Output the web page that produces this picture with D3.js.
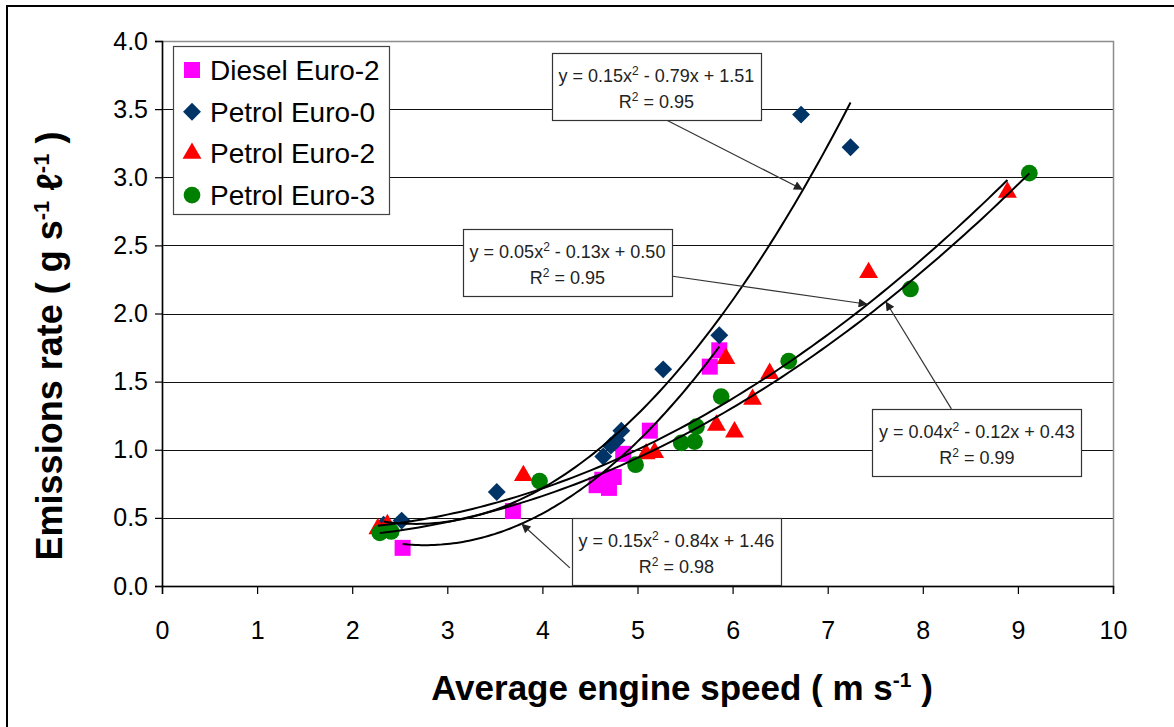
<!DOCTYPE html>
<html>
<head>
<meta charset="utf-8">
<script src="https://cdn.jsdelivr.net/npm/d3@7"></script>
<style>
  html, body { margin: 0; padding: 0; background: #fff; }
  svg { display: block; font-family: Arial, "Liberation Sans", sans-serif; }
</style>
</head>
<body>
<svg id="chart" width="1174" height="727"></svg>
<script>
// ---- data -------------------------------------------------------------
const seriesNames = ["Diesel Euro-2", "Petrol Euro-0", "Petrol Euro-2", "Petrol Euro-3"];

// [average engine speed (m/s), emissions rate (g/s/l)]
const dieselEuro2 = [[2.53,0.28],[3.69,0.55],[4.57,0.74],[4.63,0.78],[4.70,0.72],[4.75,0.80],
                     [4.85,0.97],[5.13,1.14],[5.76,1.61],[5.86,1.73]];
const petrolEuro0 = [[2.33,0.45],[2.52,0.48],[3.52,0.69],[4.64,0.95],[4.72,1.03],[4.78,1.07],
                     [4.83,1.14],[5.27,1.59],[5.86,1.84],[6.72,3.46],[7.24,3.22]];
const petrolEuro2 = [[2.27,0.42],[2.37,0.45],[3.80,0.81],[5.09,0.97],[5.18,0.98],[5.83,1.18],
                     [5.93,1.67],[6.02,1.13],[6.21,1.37],[6.39,1.56],[7.43,2.30],[8.89,2.89]];
const petrolEuro3 = [[2.29,0.39],[2.41,0.40],[3.97,0.77],[4.98,0.89],[5.46,1.05],[5.60,1.06],
                     [5.62,1.17],[5.88,1.39],[6.59,1.65],[7.87,2.18],[9.12,3.03]];

// quadratic trend lines  y = a x^2 + b x + c  and their R^2
const dieselFit = [0.152, -0.84, 1.46];
const euro0Fit  = [0.148, -0.79, 1.51];
const euro2Fit  = [0.046, -0.13, 0.50];
const euro3Fit  = [0.0444, -0.12, 0.43];
const fitR2     = [0.98, 0.95, 0.95, 0.99];

const xTicks = [0,1,2,3,4,5,6,7,8,9,10];
const yTicks = [0,0.5,1,1.5,2,2.5,3,3.5,4];

const seriesData   = [dieselEuro2, petrolEuro0, petrolEuro2, petrolEuro3];
const seriesFits   = [dieselFit, euro0Fit, euro2Fit, euro3Fit];
const seriesColors = ["#ff00ff", "#003366", "#ff0000", "#008000"];
const seriesShapes = ["square", "diamond", "triangle", "circle"];

// ---- layout -----------------------------------------------------------
const svg = d3.select("#chart");
const x = d3.scaleLinear().domain([0, 10]).range([162, 1113]);
const y = d3.scaleLinear().domain([0, 4]).range([586, 41]);

const symbolPath = {
  square:   d3.symbol().type(d3.symbolSquare).size(256)(),
  diamond:  d3.symbol().type(d3.symbolSquare).size(160)(),
  triangle: d3.symbol().type(d3.symbolTriangle).size(155)(),
  circle:   d3.symbol().type(d3.symbolCircle).size(220)()
};
const symbolRotate = { square: 0, diamond: 45, triangle: 0, circle: 0 };

// outer frame
svg.append("rect")
  .attr("x", 7).attr("y", 6).attr("width", 1200).attr("height", 800)
  .attr("fill", "#fff").attr("stroke", "#000").attr("stroke-width", 2);

// horizontal gridlines
svg.append("g").selectAll("line")
  .data(yTicks.filter(v => v > 0 && v < 4))
  .join("line")
  .attr("x1", x(0)).attr("x2", x(10))
  .attr("y1", d => Math.round(y(d)) + 0.5).attr("y2", d => Math.round(y(d)) + 0.5)
  .attr("stroke", "#111").attr("stroke-width", 1);

// plot area border
svg.append("rect")
  .attr("x", x(0) + 0.5).attr("y", Math.round(y(4)) + 0.5)
  .attr("width", x(10) - x(0)).attr("height", y(0) - y(4))
  .attr("fill", "none").attr("stroke", "#8c8c8c").attr("stroke-width", 1.5);

// axes
const fmt1 = d3.format(".1f");
const yAxis = svg.append("g")
  .attr("transform", `translate(${x(0)},0)`)
  .call(d3.axisLeft(y).tickValues(yTicks).tickFormat(fmt1).tickSize(7).tickPadding(7));
const xAxis = svg.append("g")
  .attr("transform", `translate(0,${y(0)})`)
  .call(d3.axisBottom(x).tickValues(xTicks).tickFormat(d3.format("d")).tickSize(8).tickPadding(27));
[yAxis, xAxis].forEach(g => {
  g.selectAll("path.domain").attr("stroke", "#000").attr("stroke-width", 1.5);
  g.selectAll(".tick line").attr("stroke", "#000").attr("stroke-width", 1.2);
  g.selectAll(".tick text").attr("fill", "#000").attr("font-size", 25)
    .attr("font-family", "Arial, 'Liberation Sans', sans-serif");
});

// markers
seriesData.forEach((pts, i) => {
  svg.append("g").selectAll("path")
    .data(pts)
    .join("path")
    .attr("d", symbolPath[seriesShapes[i]])
    .attr("transform", d => `translate(${x(d[0])},${y(d[1])}) rotate(${symbolRotate[seriesShapes[i]]})`)
    .attr("fill", seriesColors[i]);
});

// trend lines over each series' range
const quad = (c, v) => c[0] * v * v + c[1] * v + c[2];
const line = d3.line().x(d => x(d[0])).y(d => y(d[1]));
seriesData.forEach((pts, i) => {
  const [lo, hi] = d3.extent(pts, d => d[0]);
  const samples = d3.range(0, 101).map(k => {
    const v = lo + (hi - lo) * k / 100;
    return [v, quad(seriesFits[i], v)];
  });
  svg.append("path")
    .attr("d", line(samples))
    .attr("fill", "none").attr("stroke", "#000").attr("stroke-width", 2);
});

// arrowhead
svg.append("defs").append("marker")
  .attr("id", "arrow").attr("viewBox", "0 0 10 10")
  .attr("refX", 10).attr("refY", 5)
  .attr("markerWidth", 12).attr("markerHeight", 9)
  .attr("markerUnits", "userSpaceOnUse")
  .attr("orient", "auto")
  .append("path").attr("d", "M0,0 L10,5 L0,10 Z").attr("fill", "#222");

// equation callouts: box corner in data units, arrow start offset in px, arrow tip on the curve
const callouts = [
  { fit: 1, bx: 4.10, by: 3.91, sx: 113, sy: 66, tip: 6.74 },
  { fit: 2, bx: 3.165, by: 2.62, sx: 208, sy: 47, tip: 7.42 },
  { fit: 0, bx: 4.31, by: 0.50, sx: -2, sy: 50, tip: 3.78 },
  { fit: 3, bx: 7.47, by: 1.30, sx: 79, sy: 0, tip: 7.61 }
];
const boxW = 209, boxH = 67;
const f2 = d3.format(".2f");

callouts.forEach(c => {
  const coef = seriesFits[c.fit];
  const bx = x(c.bx), by = y(c.by);
  svg.append("line")
    .attr("x1", bx + c.sx).attr("y1", by + c.sy)
    .attr("x2", x(c.tip)).attr("y2", y(quad(coef, c.tip)))
    .attr("stroke", "#333").attr("stroke-width", 1.2)
    .attr("marker-end", "url(#arrow)");
  svg.append("rect")
    .attr("x", Math.round(bx) + 0.5).attr("y", Math.round(by) + 0.5)
    .attr("width", boxW).attr("height", boxH)
    .attr("fill", "#fff").attr("stroke", "#333").attr("stroke-width", 1.2);
  const t1 = svg.append("text")
    .attr("x", bx + boxW / 2).attr("y", by + 29)
    .attr("text-anchor", "middle").attr("font-size", 18).attr("fill", "#222");
  t1.append("tspan").text(`y = ${f2(coef[0])}x`);
  t1.append("tspan").attr("dy", -7).attr("font-size", 12).text("2");
  t1.append("tspan").attr("dy", 7)
    .text(` ${coef[1] < 0 ? "-" : "+"} ${f2(Math.abs(coef[1]))}x ${coef[2] < 0 ? "-" : "+"} ${f2(Math.abs(coef[2]))}`);
  const t2 = svg.append("text")
    .attr("x", bx + boxW / 2).attr("y", by + 55)
    .attr("text-anchor", "middle").attr("font-size", 18).attr("fill", "#222");
  t2.append("tspan").text("R");
  t2.append("tspan").attr("dy", -7).attr("font-size", 12).text("2");
  t2.append("tspan").attr("dy", 7).text(` = ${f2(fitR2[c.fit])}`);
});

// legend
const legend = svg.append("g");
legend.append("rect")
  .attr("x", 173.5).attr("y", 46.5).attr("width", 216).attr("height", 168)
  .attr("fill", "#fff").attr("stroke", "#444").attr("stroke-width", 1.2);
seriesNames.forEach((name, i) => {
  const cy = 70 + i * 41.7;
  legend.append("path")
    .attr("d", symbolPath[seriesShapes[i]])
    .attr("transform", `translate(192,${cy}) rotate(${symbolRotate[seriesShapes[i]]})`)
    .attr("fill", seriesColors[i]);
  legend.append("text")
    .attr("x", 210).attr("y", cy).attr("dy", "0.36em")
    .attr("font-size", 28).attr("fill", "#000").text(name);
});

// axis titles
const xt = svg.append("text")
  .attr("x", 682).attr("y", 700)
  .attr("text-anchor", "middle").attr("font-size", 35).attr("font-weight", "bold");
xt.append("tspan").text("Average engine speed ( m s");
xt.append("tspan").attr("dy", -13).attr("font-size", 21).text("-1");
xt.append("tspan").attr("dy", 13).text(" )");

const yt = svg.append("text")
  .attr("transform", "translate(62,346) rotate(-90)")
  .attr("text-anchor", "middle").attr("font-size", 36).attr("font-weight", "bold");
yt.append("tspan").text("Emissions rate ( g s");
yt.append("tspan").attr("dy", -13).attr("font-size", 22).text("-1");
yt.append("tspan").attr("dy", 13).text(" \u2113");
yt.append("tspan").attr("dy", -13).attr("font-size", 22).text("-1");
yt.append("tspan").attr("dy", 13).text(" )");
</script>
</body>
</html>
